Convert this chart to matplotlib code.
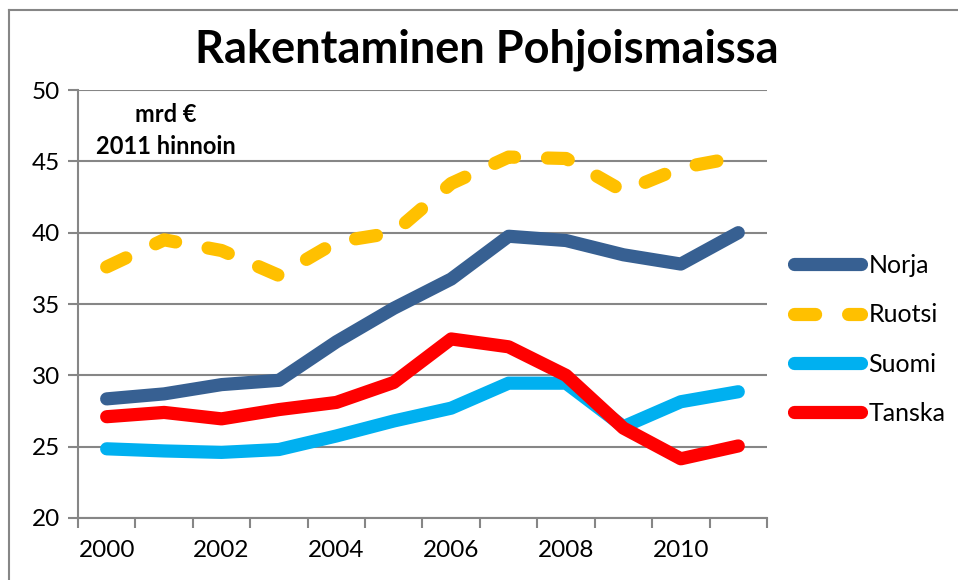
import numpy as np
import matplotlib.pyplot as plt
from matplotlib.lines import Line2D

plt.rcParams['font.family'] = ['Lato', 'DejaVu Sans']

# data (mrd €, 2011 hinnoin)
years = list(range(2000, 2012))
norja = [28.35, 28.7, 29.35, 29.65, 32.35, 34.7, 36.75, 39.75, 39.45, 38.45, 37.8, 40.0]
ruotsi = [37.6, 39.5, 38.75, 37.0, 39.35, 40.0, 43.45, 45.3, 45.2, 42.9, 44.55, 45.3]
suomi = [24.85, 24.7, 24.6, 24.8, 25.75, 26.8, 27.7, 29.45, 29.45, 26.4, 28.15, 28.85]
tanska = [27.1, 27.4, 26.95, 27.6, 28.1, 29.5, 32.55, 32.0, 30.0, 26.3, 24.15, 25.05]

cols = {'Norja': '#376092', 'Ruotsi': '#FFC000', 'Suomi': '#00B0F0', 'Tanska': '#FF0000'}
grey = '#868686'

fig = plt.figure(figsize=(9.58, 5.80), dpi=100)
ax = fig.add_axes([0.0814, 0.1069, 0.7192, 0.7379])

x = np.arange(len(years))
lw = 9.5
ax.plot(x, norja, color=cols['Norja'], lw=lw, solid_capstyle='round', solid_joinstyle='round', label='Norja', zorder=3)
ax.plot(x, ruotsi, color=cols['Ruotsi'], lw=lw, dashes=(1.6, 2.5), dash_capstyle='round', dash_joinstyle='round', label='Ruotsi', zorder=3)
ax.plot(x, suomi, color=cols['Suomi'], lw=lw, solid_capstyle='round', solid_joinstyle='round', label='Suomi', zorder=3)
ax.plot(x, tanska, color=cols['Tanska'], lw=lw, solid_capstyle='round', solid_joinstyle='round', label='Tanska', zorder=4)

ax.set_xlim(-0.5, len(years) - 0.5)
ax.set_ylim(20, 50)
ax.set_yticks(range(20, 51, 5))
ax.yaxis.grid(True, color=grey, lw=1.5)
ax.set_axisbelow(True)

ax.set_xticks(x[::2])
ax.set_xticklabels([str(y) for y in years[::2]])
ax.set_xticks(np.arange(-0.5, len(years), 1), minor=True)
ax.tick_params(axis='x', which='major', length=0, pad=16, labelsize=17.5)
ax.tick_params(axis='x', which='minor', length=7, width=1.5, color=grey, direction='out')
ax.tick_params(axis='y', length=7, width=1.5, color=grey, labelsize=17.5, pad=6)

for s in ['top', 'right']:
    ax.spines[s].set_visible(False)
for s in ['left', 'bottom']:
    ax.spines[s].set_color(grey)
    ax.spines[s].set_linewidth(1.5)

ax.text(0.128, 0.942, 'mrd €', transform=ax.transAxes, ha='center', va='center', fontsize=17, fontweight='bold')
ax.text(0.128, 0.867, '2011 hinnoin', transform=ax.transAxes, ha='center', va='center', fontsize=17, fontweight='bold')

fig.text(0.508, 0.914, 'Rakentaminen Pohjoismaissa', ha='center', va='center', fontsize=32.5, fontweight='bold')

leg = ax.legend(loc='upper left', bbox_to_anchor=(1.024, 0.64), frameon=False, fontsize=18,
                handlelength=2.7, labelspacing=1.05, handletextpad=0.3, borderaxespad=0)

# chart area border (top and left visible)
fig.add_artist(Line2D([9 / 958, 1], [1 - 10 / 580, 1 - 10 / 580], color=grey, lw=1.5))
fig.add_artist(Line2D([9 / 958, 9 / 958], [0, 1 - 10 / 580], color=grey, lw=1.5))

fig.savefig('out.png', dpi=100)
